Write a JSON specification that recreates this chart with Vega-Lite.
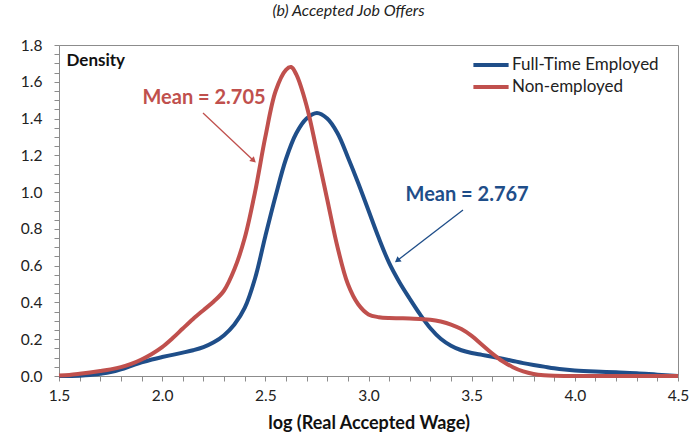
{
  "$schema": "https://vega.github.io/schema/vega-lite/v6.json",
  "width": 619,
  "height": 331,
  "autosize": {"type": "none"},
  "padding": {"left": 59, "top": 45, "right": 16, "bottom": 56},
  "background": "white",
  "title": {"text": "(b) Accepted Job Offers", "font": "Lato", "fontStyle": "italic", "fontWeight": "normal", "fontSize": 16, "color": "#222222", "offset": 19, "dx": -20},
  "config": {
    "view": {"stroke": "#8c8c8c", "strokeWidth": 1},
    "font": "Lato",
    "axis": {"grid": false, "domainColor": "#8c8c8c", "tickColor": "#8c8c8c", "tickSize": 5, "labelFont": "Lato", "labelFontSize": 15.5, "labelColor": "#222222", "titleFont": "Lato", "titleColor": "#111111", "labelOverlap": false}
  },
  "datasets": {
    "curves": [
      {"x": 1.5, "y": 0.0, "s": "Full-Time Employed"},
      {"x": 1.6, "y": 0.002, "s": "Full-Time Employed"},
      {"x": 1.65, "y": 0.005, "s": "Full-Time Employed"},
      {"x": 1.7, "y": 0.012, "s": "Full-Time Employed"},
      {"x": 1.75, "y": 0.021, "s": "Full-Time Employed"},
      {"x": 1.8, "y": 0.036, "s": "Full-Time Employed"},
      {"x": 1.85, "y": 0.055, "s": "Full-Time Employed"},
      {"x": 1.9, "y": 0.074, "s": "Full-Time Employed"},
      {"x": 1.95, "y": 0.09, "s": "Full-Time Employed"},
      {"x": 2.0, "y": 0.103, "s": "Full-Time Employed"},
      {"x": 2.05, "y": 0.115, "s": "Full-Time Employed"},
      {"x": 2.1, "y": 0.127, "s": "Full-Time Employed"},
      {"x": 2.15, "y": 0.14, "s": "Full-Time Employed"},
      {"x": 2.2, "y": 0.157, "s": "Full-Time Employed"},
      {"x": 2.25, "y": 0.183, "s": "Full-Time Employed"},
      {"x": 2.3, "y": 0.222, "s": "Full-Time Employed"},
      {"x": 2.35, "y": 0.28, "s": "Full-Time Employed"},
      {"x": 2.4, "y": 0.37, "s": "Full-Time Employed"},
      {"x": 2.45, "y": 0.53, "s": "Full-Time Employed"},
      {"x": 2.5, "y": 0.76, "s": "Full-Time Employed"},
      {"x": 2.55, "y": 0.98, "s": "Full-Time Employed"},
      {"x": 2.6, "y": 1.18, "s": "Full-Time Employed"},
      {"x": 2.65, "y": 1.32, "s": "Full-Time Employed"},
      {"x": 2.7, "y": 1.4, "s": "Full-Time Employed"},
      {"x": 2.75, "y": 1.43, "s": "Full-Time Employed"},
      {"x": 2.8, "y": 1.4, "s": "Full-Time Employed"},
      {"x": 2.85, "y": 1.32, "s": "Full-Time Employed"},
      {"x": 2.9, "y": 1.19, "s": "Full-Time Employed"},
      {"x": 2.95, "y": 1.05, "s": "Full-Time Employed"},
      {"x": 3.0, "y": 0.9, "s": "Full-Time Employed"},
      {"x": 3.05, "y": 0.75, "s": "Full-Time Employed"},
      {"x": 3.1, "y": 0.615, "s": "Full-Time Employed"},
      {"x": 3.15, "y": 0.51, "s": "Full-Time Employed"},
      {"x": 3.2, "y": 0.42, "s": "Full-Time Employed"},
      {"x": 3.25, "y": 0.335, "s": "Full-Time Employed"},
      {"x": 3.3, "y": 0.26, "s": "Full-Time Employed"},
      {"x": 3.35, "y": 0.203, "s": "Full-Time Employed"},
      {"x": 3.4, "y": 0.165, "s": "Full-Time Employed"},
      {"x": 3.45, "y": 0.14, "s": "Full-Time Employed"},
      {"x": 3.5, "y": 0.125, "s": "Full-Time Employed"},
      {"x": 3.55, "y": 0.115, "s": "Full-Time Employed"},
      {"x": 3.6, "y": 0.105, "s": "Full-Time Employed"},
      {"x": 3.65, "y": 0.094, "s": "Full-Time Employed"},
      {"x": 3.7, "y": 0.082, "s": "Full-Time Employed"},
      {"x": 3.75, "y": 0.07, "s": "Full-Time Employed"},
      {"x": 3.8, "y": 0.06, "s": "Full-Time Employed"},
      {"x": 3.85, "y": 0.051, "s": "Full-Time Employed"},
      {"x": 3.9, "y": 0.042, "s": "Full-Time Employed"},
      {"x": 3.95, "y": 0.035, "s": "Full-Time Employed"},
      {"x": 4.0, "y": 0.03, "s": "Full-Time Employed"},
      {"x": 4.1, "y": 0.024, "s": "Full-Time Employed"},
      {"x": 4.2, "y": 0.02, "s": "Full-Time Employed"},
      {"x": 4.3, "y": 0.015, "s": "Full-Time Employed"},
      {"x": 4.4, "y": 0.007, "s": "Full-Time Employed"},
      {"x": 4.5, "y": 0.0, "s": "Full-Time Employed"},
      {"x": 1.5, "y": 0.003, "s": "Non-employed"},
      {"x": 1.55, "y": 0.006, "s": "Non-employed"},
      {"x": 1.6, "y": 0.012, "s": "Non-employed"},
      {"x": 1.65, "y": 0.019, "s": "Non-employed"},
      {"x": 1.7, "y": 0.027, "s": "Non-employed"},
      {"x": 1.75, "y": 0.036, "s": "Non-employed"},
      {"x": 1.8, "y": 0.048, "s": "Non-employed"},
      {"x": 1.85, "y": 0.066, "s": "Non-employed"},
      {"x": 1.9, "y": 0.09, "s": "Non-employed"},
      {"x": 1.95, "y": 0.12, "s": "Non-employed"},
      {"x": 2.0, "y": 0.157, "s": "Non-employed"},
      {"x": 2.05, "y": 0.205, "s": "Non-employed"},
      {"x": 2.1, "y": 0.258, "s": "Non-employed"},
      {"x": 2.15, "y": 0.31, "s": "Non-employed"},
      {"x": 2.2, "y": 0.358, "s": "Non-employed"},
      {"x": 2.25, "y": 0.405, "s": "Non-employed"},
      {"x": 2.3, "y": 0.465, "s": "Non-employed"},
      {"x": 2.35, "y": 0.58, "s": "Non-employed"},
      {"x": 2.4, "y": 0.75, "s": "Non-employed"},
      {"x": 2.45, "y": 1.0, "s": "Non-employed"},
      {"x": 2.5, "y": 1.3, "s": "Non-employed"},
      {"x": 2.55, "y": 1.55, "s": "Non-employed"},
      {"x": 2.6, "y": 1.665, "s": "Non-employed"},
      {"x": 2.625, "y": 1.68, "s": "Non-employed"},
      {"x": 2.65, "y": 1.64, "s": "Non-employed"},
      {"x": 2.7, "y": 1.47, "s": "Non-employed"},
      {"x": 2.75, "y": 1.22, "s": "Non-employed"},
      {"x": 2.8, "y": 0.96, "s": "Non-employed"},
      {"x": 2.85, "y": 0.7, "s": "Non-employed"},
      {"x": 2.9, "y": 0.5, "s": "Non-employed"},
      {"x": 2.95, "y": 0.39, "s": "Non-employed"},
      {"x": 3.0, "y": 0.335, "s": "Non-employed"},
      {"x": 3.05, "y": 0.32, "s": "Non-employed"},
      {"x": 3.1, "y": 0.315, "s": "Non-employed"},
      {"x": 3.15, "y": 0.314, "s": "Non-employed"},
      {"x": 3.2, "y": 0.313, "s": "Non-employed"},
      {"x": 3.25, "y": 0.31, "s": "Non-employed"},
      {"x": 3.3, "y": 0.306, "s": "Non-employed"},
      {"x": 3.35, "y": 0.296, "s": "Non-employed"},
      {"x": 3.4, "y": 0.28, "s": "Non-employed"},
      {"x": 3.45, "y": 0.255, "s": "Non-employed"},
      {"x": 3.5, "y": 0.218, "s": "Non-employed"},
      {"x": 3.55, "y": 0.17, "s": "Non-employed"},
      {"x": 3.6, "y": 0.122, "s": "Non-employed"},
      {"x": 3.65, "y": 0.08, "s": "Non-employed"},
      {"x": 3.7, "y": 0.048, "s": "Non-employed"},
      {"x": 3.75, "y": 0.025, "s": "Non-employed"},
      {"x": 3.8, "y": 0.011, "s": "Non-employed"},
      {"x": 3.85, "y": 0.004, "s": "Non-employed"},
      {"x": 3.9, "y": 0.001, "s": "Non-employed"},
      {"x": 4.0, "y": 0.0, "s": "Non-employed"},
      {"x": 4.5, "y": 0.0, "s": "Non-employed"}
    ],
    "notes": [
      {"s": "Full-Time Employed", "label": "Mean = 2.767", "lx": 3.478, "ly": 0.984, "x": 3.458, "y": 0.903, "x2": 3.143, "y2": 0.631, "angle": 232},
      {"s": "Non-employed", "label": "Mean = 2.705", "lx": 2.203, "ly": 1.512, "x": 2.198, "y": 1.43, "x2": 2.44, "y2": 1.175, "angle": 133}
    ]
  },
  "layer": [
    {
      "data": {"name": "curves"},
      "mark": {"type": "line", "strokeWidth": 4, "interpolate": "catmull-rom"},
      "encoding": {
        "x": {"field": "x", "type": "quantitative", "scale": {"domain": [1.5, 4.5], "nice": false, "zero": false},
          "axis": {"title": "log (Real Accepted Wage)", "titleFontSize": 18, "titleFontWeight": "bold", "titlePadding": 11, "labelPadding": 7, "labelOverlap": false, "labelFlush": false, "tickCount": 200,
            "values": [1.5,1.6,1.7,1.8,1.9,2.0,2.1,2.2,2.3,2.4,2.5,2.6,2.7,2.8,2.9,3.0,3.1,3.2,3.3,3.4,3.5,3.6,3.7,3.8,3.9,4.0,4.1,4.2,4.3,4.4,4.5],
            "labelExpr": "abs(datum.value*2 - round(datum.value*2)) < 0.001 ? format(datum.value, '.1f') : ''"}},
        "y": {"field": "y", "type": "quantitative", "scale": {"domain": [0, 1.8], "nice": false},
          "axis": {"title": "Density", "titleAngle": 0, "titleX": 7, "titleY": 20, "titleAlign": "left", "titleBaseline": "alphabetic", "titleFontSize": 17, "titleFontWeight": "bold", "labelPadding": 12, "labelOverlap": false, "labelFlush": false, "tickCount": 200,
            "values": [0,0.05,0.1,0.15,0.2,0.25,0.3,0.35,0.4,0.45,0.5,0.55,0.6,0.65,0.7,0.75,0.8,0.85,0.9,0.95,1.0,1.05,1.1,1.15,1.2,1.25,1.3,1.35,1.4,1.45,1.5,1.55,1.6,1.65,1.7,1.75,1.8],
            "labelExpr": "abs(datum.value*5 - round(datum.value*5)) < 0.001 ? format(datum.value, '.1f') : ''"}},
        "color": {"field": "s", "type": "nominal",
          "scale": {"domain": ["Full-Time Employed", "Non-employed"], "range": ["#1F4E89", "#C0504D"]},
          "legend": {"title": null, "orient": "none", "legendX": 419, "legendY": 7, "padding": 0, "symbolType": "M-1.6,0H1.6", "symbolStrokeWidth": 4, "symbolSize": 484, "labelFontSize": 17, "labelFont": "Lato", "labelColor": "#222222", "rowPadding": 1, "labelOffset": 8}}
      }
    },
    {
      "data": {"name": "notes"},
      "mark": {"type": "rule", "strokeWidth": 1.3},
      "encoding": {
        "x": {"field": "x", "type": "quantitative"},
        "y": {"field": "y", "type": "quantitative"},
        "x2": {"field": "x2"},
        "y2": {"field": "y2"},
        "color": {"field": "s", "type": "nominal", "legend": null}
      }
    },
    {
      "data": {"name": "notes"},
      "mark": {"type": "point", "shape": "triangle", "filled": true, "size": 45, "opacity": 1},
      "encoding": {
        "x": {"field": "x2", "type": "quantitative"},
        "y": {"field": "y2", "type": "quantitative"},
        "angle": {"field": "angle", "type": "quantitative", "scale": null},
        "color": {"field": "s", "type": "nominal", "legend": null}
      }
    },
    {
      "data": {"name": "notes"},
      "mark": {"type": "text", "font": "Lato", "fontSize": 20, "fontWeight": "bold", "align": "center", "baseline": "middle"},
      "encoding": {
        "x": {"field": "lx", "type": "quantitative"},
        "y": {"field": "ly", "type": "quantitative"},
        "text": {"field": "label"},
        "color": {"field": "s", "type": "nominal", "legend": null}
      }
    }
  ]
}
